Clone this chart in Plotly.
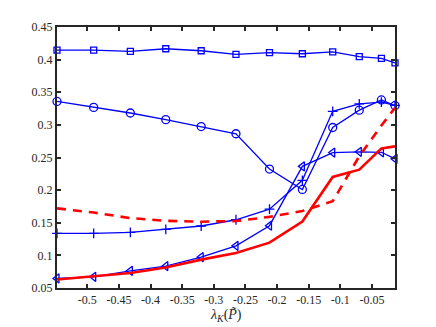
import plotly.graph_objects as go

x_vals = [-0.548, -0.490, -0.432, -0.376, -0.320, -0.265, -0.212, -0.160, -0.112, -0.070, -0.035, -0.0135]

sq_vals = [0.4147, 0.4147, 0.4126, 0.4167, 0.4136, 0.4080, 0.4106, 0.4090, 0.4120, 0.4045, 0.4020, 0.3950]
circ_vals = [0.3359, 0.3268, 0.3182, 0.3080, 0.2974, 0.2864, 0.2323, 0.2010, 0.2960, 0.3225, 0.3382, 0.3295]
plus_vals = [0.1338, 0.1338, 0.1353, 0.1399, 0.1450, 0.1546, 0.1708, 0.2150, 0.3208, 0.3323, 0.3349, 0.3298]
tri_vals = [0.0647, 0.0672, 0.0763, 0.0834, 0.0975, 0.1147, 0.1455, 0.2364, 0.2576, 0.2587, 0.2580, 0.2480]
red_solid = [0.0630, 0.0675, 0.0730, 0.0815, 0.0935, 0.1035, 0.1195, 0.1518, 0.2202, 0.2314, 0.2640, 0.2670]
red_dash = [0.1720, 0.1657, 0.1571, 0.1530, 0.1516, 0.1526, 0.1590, 0.1680, 0.1830, 0.2520, 0.2990, 0.3260]

x_ticks = [-0.5, -0.45, -0.4, -0.35, -0.3, -0.25, -0.2, -0.15, -0.1, -0.05]
x_tick_text = ["-0.5", "-0.45", "-0.4", "-0.35", "-0.3", "-0.25", "-0.2", "-0.15", "-0.1", "-0.05"]
y_ticks = [0.05, 0.1, 0.15, 0.2, 0.25, 0.3, 0.35, 0.4, 0.45]
y_tick_text = ["0.05", "0.1", "0.15", "0.2", "0.25", "0.3", "0.35", "0.4", "0.45"]
x_label = "<i>λ</i><sub><i>K</i></sub>(<i>P̃</i>)"

BLUE = "#0000FF"
RED = "#FF0000"

fig = go.Figure()

def blue_trace(y, symbol, size):
    fig.add_trace(go.Scatter(
        x=x_vals, y=y, mode="lines+markers",
        line=dict(color=BLUE, width=1.3),
        marker=dict(symbol=symbol, size=size, color=BLUE,
                    line=dict(color=BLUE, width=1.3)),
        cliponaxis=False, showlegend=False))

blue_trace(sq_vals, "square-open", 6)
blue_trace(circ_vals, "circle-open", 8)
blue_trace(plus_vals, "cross-thin-open", 7)
blue_trace(tri_vals, "triangle-left-open", 8)

fig.add_trace(go.Scatter(x=x_vals, y=red_solid, mode="lines",
                         line=dict(color=RED, width=2.6), showlegend=False))
fig.add_trace(go.Scatter(x=x_vals, y=red_dash, mode="lines",
                         line=dict(color=RED, width=2.6, dash="9px,7px"), showlegend=False))

axis_common = dict(
    showgrid=False, zeroline=False, showline=True, linecolor="#262626", linewidth=2,
    mirror="ticks", ticks="inside", ticklen=4, tickwidth=2, tickcolor="#262626",
    tickfont=dict(family="Liberation Serif", size=12, color="#262626"),
)

# page body has an 8px default margin, so the figure is offset by 8px
fig.update_layout(
    width=428, height=319,
    margin=dict(l=49, r=41, t=16, b=39),
    paper_bgcolor="white", plot_bgcolor="white",
    xaxis=dict(range=[-0.548, -0.0135], tickvals=x_ticks, ticktext=x_tick_text,
               **axis_common),
    yaxis=dict(range=[0.05, 0.45], tickvals=y_ticks, ticktext=y_tick_text, **axis_common),
    annotations=[dict(text=x_label, xref="paper", yref="paper", x=0.5, y=-0.105,
                      xanchor="center", yanchor="middle", showarrow=False,
                      font=dict(family="Liberation Serif", size=14, color="#262626"))],
)

fig.write_html("out.html")
